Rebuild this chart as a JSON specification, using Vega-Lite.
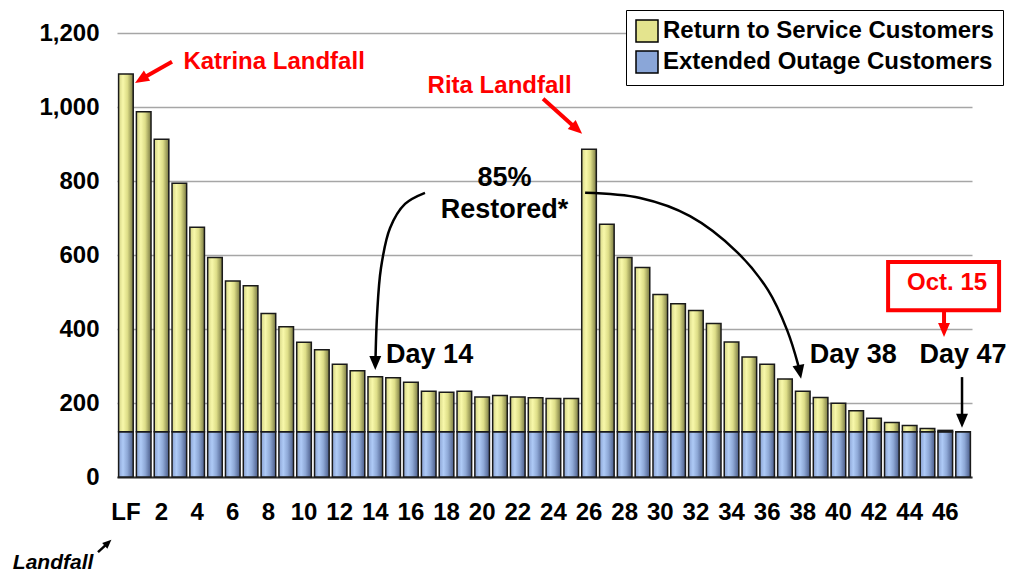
{
  "$schema": "https://vega.github.io/schema/vega-lite/v6.json",
  "width": 855,
  "height": 444,
  "autosize": "none",
  "padding": {"left": 117, "top": 33, "right": 52, "bottom": 106},
  "background": "white",
  "config": {"view": {"stroke": null}, "font": "Liberation Sans"},
  "datasets": {
    "customers": [
      {"day": 0, "series": "Extended Outage Customers", "value": 122}, {"day": 0, "series": "Return to Service Customers", "value": 967},
      {"day": 1, "series": "Extended Outage Customers", "value": 122}, {"day": 1, "series": "Return to Service Customers", "value": 865},
      {"day": 2, "series": "Extended Outage Customers", "value": 122}, {"day": 2, "series": "Return to Service Customers", "value": 791},
      {"day": 3, "series": "Extended Outage Customers", "value": 122}, {"day": 3, "series": "Return to Service Customers", "value": 672},
      {"day": 4, "series": "Extended Outage Customers", "value": 122}, {"day": 4, "series": "Return to Service Customers", "value": 553},
      {"day": 5, "series": "Extended Outage Customers", "value": 122}, {"day": 5, "series": "Return to Service Customers", "value": 471},
      {"day": 6, "series": "Extended Outage Customers", "value": 122}, {"day": 6, "series": "Return to Service Customers", "value": 408},
      {"day": 7, "series": "Extended Outage Customers", "value": 122}, {"day": 7, "series": "Return to Service Customers", "value": 395},
      {"day": 8, "series": "Extended Outage Customers", "value": 122}, {"day": 8, "series": "Return to Service Customers", "value": 320},
      {"day": 9, "series": "Extended Outage Customers", "value": 122}, {"day": 9, "series": "Return to Service Customers", "value": 284},
      {"day": 10, "series": "Extended Outage Customers", "value": 122}, {"day": 10, "series": "Return to Service Customers", "value": 242},
      {"day": 11, "series": "Extended Outage Customers", "value": 122}, {"day": 11, "series": "Return to Service Customers", "value": 222},
      {"day": 12, "series": "Extended Outage Customers", "value": 122}, {"day": 12, "series": "Return to Service Customers", "value": 183},
      {"day": 13, "series": "Extended Outage Customers", "value": 122}, {"day": 13, "series": "Return to Service Customers", "value": 165},
      {"day": 14, "series": "Extended Outage Customers", "value": 122}, {"day": 14, "series": "Return to Service Customers", "value": 149},
      {"day": 15, "series": "Extended Outage Customers", "value": 122}, {"day": 15, "series": "Return to Service Customers", "value": 146},
      {"day": 16, "series": "Extended Outage Customers", "value": 122}, {"day": 16, "series": "Return to Service Customers", "value": 134},
      {"day": 17, "series": "Extended Outage Customers", "value": 122}, {"day": 17, "series": "Return to Service Customers", "value": 110},
      {"day": 18, "series": "Extended Outage Customers", "value": 122}, {"day": 18, "series": "Return to Service Customers", "value": 107},
      {"day": 19, "series": "Extended Outage Customers", "value": 122}, {"day": 19, "series": "Return to Service Customers", "value": 110},
      {"day": 20, "series": "Extended Outage Customers", "value": 122}, {"day": 20, "series": "Return to Service Customers", "value": 94},
      {"day": 21, "series": "Extended Outage Customers", "value": 122}, {"day": 21, "series": "Return to Service Customers", "value": 98},
      {"day": 22, "series": "Extended Outage Customers", "value": 122}, {"day": 22, "series": "Return to Service Customers", "value": 94},
      {"day": 23, "series": "Extended Outage Customers", "value": 122}, {"day": 23, "series": "Return to Service Customers", "value": 92},
      {"day": 24, "series": "Extended Outage Customers", "value": 122}, {"day": 24, "series": "Return to Service Customers", "value": 90},
      {"day": 25, "series": "Extended Outage Customers", "value": 122}, {"day": 25, "series": "Return to Service Customers", "value": 90},
      {"day": 26, "series": "Extended Outage Customers", "value": 122}, {"day": 26, "series": "Return to Service Customers", "value": 764},
      {"day": 27, "series": "Extended Outage Customers", "value": 122}, {"day": 27, "series": "Return to Service Customers", "value": 561},
      {"day": 28, "series": "Extended Outage Customers", "value": 122}, {"day": 28, "series": "Return to Service Customers", "value": 471},
      {"day": 29, "series": "Extended Outage Customers", "value": 122}, {"day": 29, "series": "Return to Service Customers", "value": 444},
      {"day": 30, "series": "Extended Outage Customers", "value": 122}, {"day": 30, "series": "Return to Service Customers", "value": 371},
      {"day": 31, "series": "Extended Outage Customers", "value": 122}, {"day": 31, "series": "Return to Service Customers", "value": 346},
      {"day": 32, "series": "Extended Outage Customers", "value": 122}, {"day": 32, "series": "Return to Service Customers", "value": 328},
      {"day": 33, "series": "Extended Outage Customers", "value": 122}, {"day": 33, "series": "Return to Service Customers", "value": 293},
      {"day": 34, "series": "Extended Outage Customers", "value": 122}, {"day": 34, "series": "Return to Service Customers", "value": 243},
      {"day": 35, "series": "Extended Outage Customers", "value": 122}, {"day": 35, "series": "Return to Service Customers", "value": 202},
      {"day": 36, "series": "Extended Outage Customers", "value": 122}, {"day": 36, "series": "Return to Service Customers", "value": 183},
      {"day": 37, "series": "Extended Outage Customers", "value": 122}, {"day": 37, "series": "Return to Service Customers", "value": 143},
      {"day": 38, "series": "Extended Outage Customers", "value": 122}, {"day": 38, "series": "Return to Service Customers", "value": 110},
      {"day": 39, "series": "Extended Outage Customers", "value": 122}, {"day": 39, "series": "Return to Service Customers", "value": 93},
      {"day": 40, "series": "Extended Outage Customers", "value": 122}, {"day": 40, "series": "Return to Service Customers", "value": 77},
      {"day": 41, "series": "Extended Outage Customers", "value": 122}, {"day": 41, "series": "Return to Service Customers", "value": 57},
      {"day": 42, "series": "Extended Outage Customers", "value": 122}, {"day": 42, "series": "Return to Service Customers", "value": 37},
      {"day": 43, "series": "Extended Outage Customers", "value": 122}, {"day": 43, "series": "Return to Service Customers", "value": 25},
      {"day": 44, "series": "Extended Outage Customers", "value": 122}, {"day": 44, "series": "Return to Service Customers", "value": 17},
      {"day": 45, "series": "Extended Outage Customers", "value": 122}, {"day": 45, "series": "Return to Service Customers", "value": 9},
      {"day": 46, "series": "Extended Outage Customers", "value": 122}, {"day": 46, "series": "Return to Service Customers", "value": 4},
      {"day": 47, "series": "Extended Outage Customers", "value": 122}, {"day": 47, "series": "Return to Service Customers", "value": 0}
    ]
  },
  "resolve": {"scale": {"x": "independent"}},
  "layer": [
    {
      "data": {"name": "customers"},
      "layer": [
        {
          "mark": {"type": "bar", "opacity": 0},
          "encoding": {
            "x": {
              "field": "day",
              "type": "ordinal",
              "scale": {"paddingInner": 0.18, "paddingOuter": 0.09},
              "axis": {
                "title": null,
                "values": [0, 2, 4, 6, 8, 10, 12, 14, 16, 18, 20, 22, 24, 26, 28, 30, 32, 34, 36, 38, 40, 42, 44, 46],
                "labelExpr": "datum.value == 0 ? 'LF' : datum.label",
                "labelAngle": 0,
                "labelFont": "Liberation Sans",
                "labelFontSize": 24,
                "labelFontWeight": "bold",
                "labelColor": "black",
                "labelPadding": 23,
                "ticks": false,
                "domainColor": "#333333",
                "domainWidth": 2,
                "grid": false
              }
            },
            "y": {
              "field": "value",
              "type": "quantitative",
              "stack": "zero",
              "scale": {"domain": [0, 1200], "nice": false},
              "axis": {
                "title": null,
                "values": [0, 200, 400, 600, 800, 1000, 1200],
                "format": ",.0f",
                "labelFont": "Liberation Sans",
                "labelFontSize": 24,
                "labelFontWeight": "bold",
                "labelColor": "black",
                "labelPadding": 18,
                "ticks": false,
                "domain": false,
                "grid": true,
                "gridColor": "#a6a6a6",
                "gridWidth": 1.5
              }
            },
            "color": {
              "field": "series",
              "type": "nominal",
              "scale": {
                "domain": ["Return to Service Customers", "Extended Outage Customers"],
                "range": ["#e4e48e", "#8aa6d8"]
              },
              "legend": {
                "title": null,
                "orient": "none",
                "legendX": 509,
                "legendY": -23,
                "symbolType": "square",
                "symbolSize": 484,
                "symbolOpacity": 1,
                "symbolStrokeColor": "black",
                "symbolStrokeWidth": 1.5,
                "labelFont": "Liberation Sans",
                "labelFontSize": 24,
                "labelFontWeight": "bold",
                "labelColor": "black",
                "labelLimit": 400,
                "labelOffset": 4,
                "rowPadding": 3,
                "padding": 9,
                "strokeColor": "black",
                "fillColor": "white"
              }
            },
            "order": {"field": "series", "sort": "ascending"}
          }
        },
        {
          "transform": [
            {"stack": "value", "groupby": ["day"], "sort": [{"field": "series", "order": "ascending"}], "as": ["v0", "v1"]},
            {"filter": "datum.series === 'Extended Outage Customers'"}
          ],
          "mark": {
            "type": "bar",
            "stroke": "#1a1a1a",
            "strokeWidth": 1.5,
            "fill": {
              "gradient": "linear", "x1": 0, "y1": 0, "x2": 1, "y2": 0,
              "stops": [
                {"offset": 0, "color": "#8aa2d2"},
                {"offset": 0.3, "color": "#aecaf6"},
                {"offset": 0.6, "color": "#8ea8d6"},
                {"offset": 1, "color": "#4a5c8a"}
              ]
            }
          },
          "encoding": {
            "x": {"field": "day", "type": "ordinal"},
            "y": {"field": "v1", "type": "quantitative", "scale": {"domain": [0, 1200], "nice": false}},
            "y2": {"field": "v0"}
          }
        },
        {
          "transform": [
            {"stack": "value", "groupby": ["day"], "sort": [{"field": "series", "order": "ascending"}], "as": ["v0", "v1"]},
            {"filter": "datum.series === 'Return to Service Customers'"}
          ],
          "mark": {
            "type": "bar",
            "stroke": "#1a1a1a",
            "strokeWidth": 1.5,
            "fill": {
              "gradient": "linear", "x1": 0, "y1": 0, "x2": 1, "y2": 0,
              "stops": [
                {"offset": 0, "color": "#d4d486"},
                {"offset": 0.3, "color": "#f8f8aa"},
                {"offset": 0.6, "color": "#dede88"},
                {"offset": 1, "color": "#7a7a42"}
              ]
            }
          },
          "encoding": {
            "x": {"field": "day", "type": "ordinal"},
            "y": {"field": "v1", "type": "quantitative", "scale": {"domain": [0, 1200], "nice": false}},
            "y2": {"field": "v0"}
          }
        }
      ]
    },
    {
      "layer": [
        {
          "data": {"values": [{"left": 42.79, "right": 49.02, "top": 581, "bottom": 451}]},
          "mark": {"type": "rect", "fill": "white", "stroke": "#ff0000", "strokeWidth": 4},
          "encoding": {
            "x": {"field": "left", "type": "quantitative", "scale": {"domain": [-0.5, 47.5], "nice": false, "zero": false}, "axis": null},
            "x2": {"field": "right"},
            "y": {"field": "top", "type": "quantitative", "scale": {"domain": [0, 1200], "nice": false}},
            "y2": {"field": "bottom"}
          }
        },
        {
          "data": {"values": [
            {"label": "Katrina Landfall", "day": 8.32, "value": 1122},
            {"label": "Rita Landfall", "day": 20.98, "value": 1057},
            {"label": "Oct. 15", "day": 46.1, "value": 524}
          ]},
          "mark": {"type": "text", "color": "#ff0000", "fontSize": 24, "fontWeight": "bold", "align": "center", "baseline": "middle"},
          "encoding": {
            "x": {"field": "day", "type": "quantitative", "scale": {"domain": [-0.5, 47.5], "nice": false, "zero": false}, "axis": null},
            "y": {"field": "value", "type": "quantitative", "scale": {"domain": [0, 1200], "nice": false}},
            "text": {"field": "label"}
          }
        },
        {
          "data": {"values": [
            {"label": "85%", "day": 21.26, "value": 808},
            {"label": "Restored*", "day": 21.26, "value": 722},
            {"label": "Day 14", "day": 17.05, "value": 330},
            {"label": "Day 38", "day": 40.83, "value": 330},
            {"label": "Day 47", "day": 47.0, "value": 330}
          ]},
          "mark": {"type": "text", "color": "black", "fontSize": 27, "fontWeight": "bold", "align": "center", "baseline": "middle"},
          "encoding": {
            "x": {"field": "day", "type": "quantitative", "scale": {"domain": [-0.5, 47.5], "nice": false, "zero": false}, "axis": null},
            "y": {"field": "value", "type": "quantitative", "scale": {"domain": [0, 1200], "nice": false}},
            "text": {"field": "label"}
          }
        },
        {
          "data": {"values": [{"label": "Landfall", "day": -4.09, "value": -232}]},
          "mark": {"type": "text", "color": "black", "fontSize": 21, "fontWeight": "bold", "fontStyle": "italic", "align": "center", "baseline": "middle"},
          "encoding": {
            "x": {"field": "day", "type": "quantitative", "scale": {"domain": [-0.5, 47.5], "nice": false, "zero": false}, "axis": null},
            "y": {"field": "value", "type": "quantitative", "scale": {"domain": [0, 1200], "nice": false}},
            "text": {"field": "label"}
          }
        },
        {
          "data": {"values": [
            {"day": 2.588, "value": 1122, "day2": 0.848, "value2": 1075},
            {"day": 23.42, "value": 1022, "day2": 25.32, "value2": 940},
            {"day": 45.93, "value": 451, "day2": 45.93, "value2": 397}
          ]},
          "mark": {"type": "rule", "color": "#ff0000", "strokeWidth": 4},
          "encoding": {
            "x": {"field": "day", "type": "quantitative", "scale": {"domain": [-0.5, 47.5], "nice": false, "zero": false}, "axis": null},
            "x2": {"field": "day2"},
            "y": {"field": "value", "type": "quantitative", "scale": {"domain": [0, 1200], "nice": false}},
            "y2": {"field": "value2"}
          }
        },
        {
          "data": {"values": [
            {"day": 46.94, "value": 270, "day2": 46.94, "value2": 152},
            {"day": -1.567, "value": -203, "day2": -1.0, "value2": -178}
          ]},
          "mark": {"type": "rule", "color": "black", "strokeWidth": 2.5},
          "encoding": {
            "x": {"field": "day", "type": "quantitative", "scale": {"domain": [-0.5, 47.5], "nice": false, "zero": false}, "axis": null},
            "x2": {"field": "day2"},
            "y": {"field": "value", "type": "quantitative", "scale": {"domain": [0, 1200], "nice": false}},
            "y2": {"field": "value2"}
          }
        },
        {
          "data": {"values": [
            {"path": "to day 14", "i": 0, "day": 16.79, "value": 768},
            {"path": "to day 14", "i": 1, "day": 15.67, "value": 738},
            {"path": "to day 14", "i": 2, "day": 14.83, "value": 673},
            {"path": "to day 14", "i": 3, "day": 14.32, "value": 565},
            {"path": "to day 14", "i": 4, "day": 14.1, "value": 438},
            {"path": "to day 14", "i": 5, "day": 14.01, "value": 311},
            {"path": "to day 38", "i": 0, "day": 25.78, "value": 768},
            {"path": "to day 38", "i": 1, "day": 28.87, "value": 754},
            {"path": "to day 38", "i": 2, "day": 31.67, "value": 705},
            {"path": "to day 38", "i": 3, "day": 34.31, "value": 608},
            {"path": "to day 38", "i": 4, "day": 36.05, "value": 505},
            {"path": "to day 38", "i": 5, "day": 37.12, "value": 397},
            {"path": "to day 38", "i": 6, "day": 37.74, "value": 303},
            {"path": "to day 38", "i": 7, "day": 37.83, "value": 284}
          ]},
          "mark": {"type": "line", "color": "black", "strokeWidth": 2.5, "interpolate": "catmull-rom"},
          "encoding": {
            "x": {"field": "day", "type": "quantitative", "scale": {"domain": [-0.5, 47.5], "nice": false, "zero": false}, "axis": null},
            "y": {"field": "value", "type": "quantitative", "scale": {"domain": [0, 1200], "nice": false}},
            "detail": {"field": "path"},
            "order": {"field": "i"}
          }
        },
        {
          "data": {"values": [{"day": 0.848, "value": 1075}]},
          "mark": {"type": "point", "shape": "M0,-1L0.85,1L-0.85,1Z", "size": 196, "filled": true, "color": "#ff0000", "opacity": 1, "angle": 238.6},
          "encoding": {
            "x": {"field": "day", "type": "quantitative", "scale": {"domain": [-0.5, 47.5], "nice": false, "zero": false}, "axis": null},
            "y": {"field": "value", "type": "quantitative", "scale": {"domain": [0, 1200], "nice": false}}
          }
        },
        {
          "data": {"values": [{"day": 25.32, "value": 940}]},
          "mark": {"type": "point", "shape": "M0,-1L0.85,1L-0.85,1Z", "size": 196, "filled": true, "color": "#ff0000", "opacity": 1, "angle": 131.9},
          "encoding": {
            "x": {"field": "day", "type": "quantitative", "scale": {"domain": [-0.5, 47.5], "nice": false, "zero": false}, "axis": null},
            "y": {"field": "value", "type": "quantitative", "scale": {"domain": [0, 1200], "nice": false}}
          }
        },
        {
          "data": {"values": [{"day": 45.93, "value": 397}]},
          "mark": {"type": "point", "shape": "M0,-1L0.85,1L-0.85,1Z", "size": 196, "filled": true, "color": "#ff0000", "opacity": 1, "angle": 180},
          "encoding": {
            "x": {"field": "day", "type": "quantitative", "scale": {"domain": [-0.5, 47.5], "nice": false, "zero": false}, "axis": null},
            "y": {"field": "value", "type": "quantitative", "scale": {"domain": [0, 1200], "nice": false}}
          }
        },
        {
          "data": {"values": [{"day": 46.94, "value": 152}, {"day": 14.0, "value": 308}]},
          "mark": {"type": "point", "shape": "M0,-1L0.85,1L-0.85,1Z", "size": 196, "filled": true, "color": "black", "opacity": 1, "angle": 180},
          "encoding": {
            "x": {"field": "day", "type": "quantitative", "scale": {"domain": [-0.5, 47.5], "nice": false, "zero": false}, "axis": null},
            "y": {"field": "value", "type": "quantitative", "scale": {"domain": [0, 1200], "nice": false}}
          }
        },
        {
          "data": {"values": [{"day": 37.83, "value": 284}]},
          "mark": {"type": "point", "shape": "M0,-1L0.85,1L-0.85,1Z", "size": 196, "filled": true, "color": "black", "opacity": 1, "angle": 169},
          "encoding": {
            "x": {"field": "day", "type": "quantitative", "scale": {"domain": [-0.5, 47.5], "nice": false, "zero": false}, "axis": null},
            "y": {"field": "value", "type": "quantitative", "scale": {"domain": [0, 1200], "nice": false}}
          }
        },
        {
          "data": {"values": [{"day": -1.0, "value": -178}]},
          "mark": {"type": "point", "shape": "M0,-1L0.85,1L-0.85,1Z", "size": 81, "filled": true, "color": "black", "opacity": 1, "angle": 47.3},
          "encoding": {
            "x": {"field": "day", "type": "quantitative", "scale": {"domain": [-0.5, 47.5], "nice": false, "zero": false}, "axis": null},
            "y": {"field": "value", "type": "quantitative", "scale": {"domain": [0, 1200], "nice": false}}
          }
        }
      ]
    }
  ]
}
